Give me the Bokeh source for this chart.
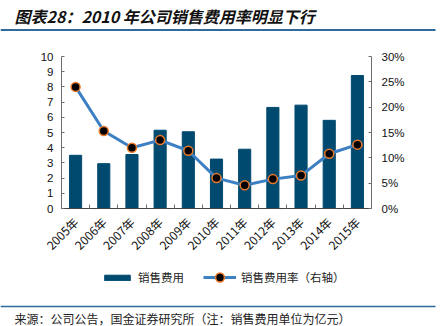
import math
from bokeh.plotting import figure
from bokeh.models import (Range1d, LinearAxis, FixedTicker, PrintfTickFormatter,
                          Legend, LegendItem, ColumnDataSource)
from bokeh.layouts import column
from bokeh.core.properties import value
from bokeh.embed import file_html
from bokeh.resources import INLINE

years = ["2005年", "2006年", "2007年", "2008年", "2009年", "2010年",
         "2011年", "2012年", "2013年", "2014年", "2015年"]
sales = [3.5, 2.95, 3.55, 5.15, 5.05, 3.25, 3.9, 6.65, 6.8, 5.8, 8.75]
rate = [24.0, 15.3, 12.0, 13.5, 11.4, 6.0, 4.6, 5.8, 6.5, 10.8, 12.6]
left_ticks = list(range(0, 11))
right_ticks = [0, 5, 10, 15, 20, 25, 30]

title_text = "图表28：2010 年公司销售费用率明显下行"
source_text = "来源：公司公告，国金证券研究所（注：销售费用单位为亿元）"
legend_labels = ["销售费用", "销售费用率（右轴）"]

CJK = "Noto Sans CJK SC"
LAT = "Liberation Sans"
BAR = "#004a70"
LINE = "#3d7fc3"
RULE = "#2f6a9a"
AXIS = "#6e6e6e"
MK_EDGE = "#e8792b"

W = 442


def bare(fig):
    fig.axis.visible = False
    fig.grid.visible = False
    fig.outline_line_color = None
    return fig


# ---- header ----
top = bare(figure(width=W, height=36, x_range=Range1d(0, W), y_range=Range1d(36, 0),
                  output_backend="svg", toolbar_location=None, min_border=0,
                  frame_align=False))
top.text(x=[14], y=[15.5], text=[title_text], text_font=value(CJK),
         text_font_style="bold italic", text_font_size="16px",
         text_baseline="middle", text_align="left", text_color="#111111")
top.segment(x0=[0], y0=[29.5], x1=[435], y1=[29.5], line_color=RULE, line_width=2)

# ---- main chart ----
idx = list(range(len(years)))
src = ColumnDataSource(dict(x=idx, sales=sales, rate=rate))

p = figure(width=W, height=226, x_range=Range1d(-0.5, len(years) - 0.5),
           y_range=Range1d(0, 10), output_backend="svg", toolbar_location=None,
           min_border_left=61, min_border_right=71, min_border_top=20,
           min_border_bottom=54, frame_align=False)
p.extra_y_ranges = {"pct": Range1d(0, 30)}
p.grid.visible = False
p.outline_line_color = None

bars = p.vbar(x="x", top="sales", width=0.43, source=src, fill_color=BAR, line_color=BAR)
line = p.line(x="x", y="rate", source=src, y_range_name="pct", line_color=LINE, line_width=3)
dots = p.scatter(x="x", y="rate", source=src, y_range_name="pct", size=9,
                 fill_color="black", line_color=MK_EDGE, line_width=1.5)

# x axis
xa = p.xaxis[0]
xa.ticker = FixedTicker(ticks=idx, minor_ticks=[i - 0.5 for i in range(len(years) + 1)])
xa.major_label_overrides = {i: y for i, y in enumerate(years)}
xa.major_label_orientation = math.pi / 4
xa.major_tick_line_color = None
xa.minor_tick_in = 4
xa.minor_tick_out = 0
xa.minor_tick_line_color = AXIS
xa.axis_line_color = "#444444"
xa.major_label_text_font = CJK
xa.major_label_text_font_size = "12px"
xa.major_label_text_color = "#111111"
xa.major_label_standoff = 5

# left axis
ya = p.yaxis[0]
ya.ticker = FixedTicker(ticks=left_ticks)
ya.major_tick_in = 3
ya.major_tick_out = 0
ya.minor_tick_line_color = None
ya.axis_line_color = AXIS
ya.major_tick_line_color = AXIS
ya.major_label_text_font = LAT
ya.major_label_text_font_size = "11.5px"
ya.major_label_text_color = "#111111"
ya.major_label_standoff = 8

# right axis
ra = LinearAxis(y_range_name="pct", ticker=FixedTicker(ticks=right_ticks),
                formatter=PrintfTickFormatter(format="%d%%"))
ra.major_tick_in = 3
ra.major_tick_out = 0
ra.minor_tick_line_color = None
ra.axis_line_color = AXIS
ra.major_tick_line_color = AXIS
ra.major_label_text_font = LAT
ra.major_label_text_font_size = "11.5px"
ra.major_label_text_color = "#111111"
ra.major_label_standoff = 10
p.add_layout(ra, "right")

# ---- legend strip (proxy renderers sit outside the visible range) ----
lf = bare(figure(width=W, height=38, x_range=Range1d(0, W), y_range=Range1d(0, 38),
                 output_backend="svg", toolbar_location=None, min_border=0,
                 frame_align=False))
proxy = ColumnDataSource(dict(x=[-1000], y=[-1000]))
lb = lf.vbar(x="x", top="y", width=1, source=proxy, fill_color=BAR, line_color=BAR)
ll = lf.line(x="x", y="y", source=proxy, line_color=LINE, line_width=3)
ls = lf.scatter(x="x", y="y", source=proxy, size=9, fill_color="black",
                line_color=MK_EDGE, line_width=1.5)
common = dict(orientation="horizontal", padding=0, margin=0, label_standoff=5,
              border_line_color=None, background_fill_alpha=0,
              label_text_font=CJK, label_text_font_size="11.5px",
              label_text_color="#222222")
legend1 = Legend(items=[LegendItem(label=legend_labels[0], renderers=[lb])],
                 location=(101, 15), glyph_width=32, glyph_height=7, **common)
legend2 = Legend(items=[LegendItem(label=legend_labels[1], renderers=[ll, ls])],
                 location=(203, 12), glyph_width=33, glyph_height=22, **common)
lf.add_layout(legend1, "center")
lf.add_layout(legend2, "center")

# ---- footer ----
bot = bare(figure(width=W, height=26, x_range=Range1d(0, W), y_range=Range1d(26, 0),
                  output_backend="svg", toolbar_location=None, min_border=0,
                  frame_align=False))
bot.segment(x0=[0], y0=[6], x1=[435], y1=[6], line_color=RULE, line_width=1.5)
bot.text(x=[14], y=[17.5], text=[source_text], text_font=value(CJK),
         text_font_size="12px", text_baseline="middle", text_align="left",
         text_color="#222222")

layout = column(top, p, lf, bot)
open("out.html", "w").write(file_html(layout, INLINE))
